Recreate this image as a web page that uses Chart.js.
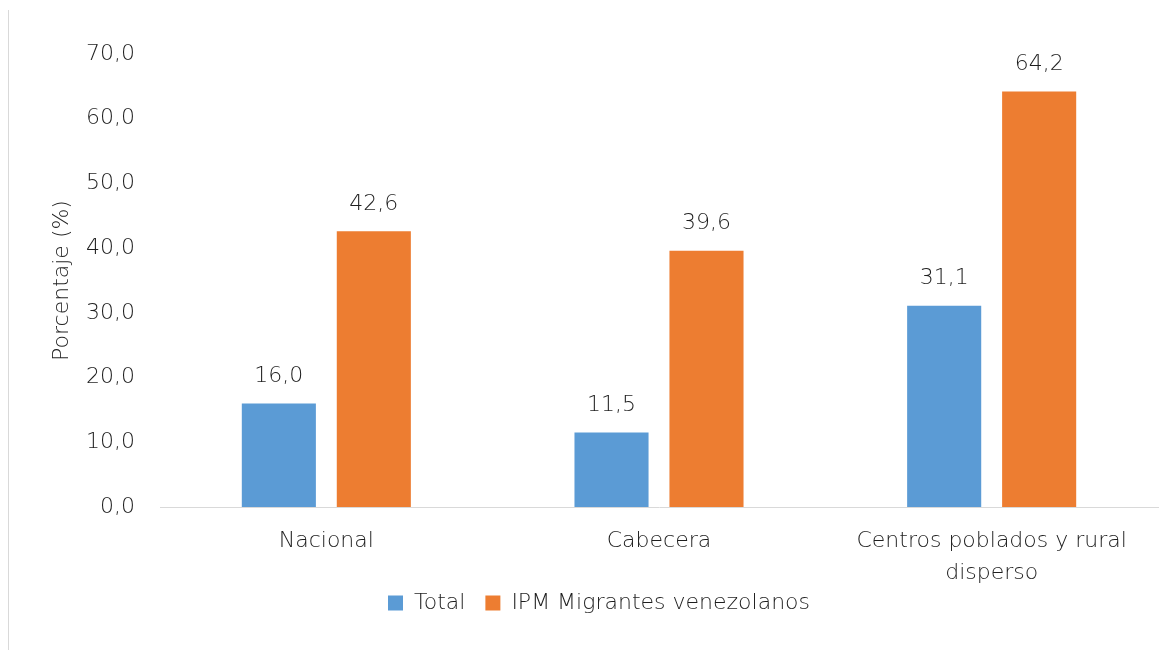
<!DOCTYPE html>
<html>
<head>
<meta charset="utf-8">
<script src="https://cdn.jsdelivr.net/npm/chart.js@4"></script>
<style>
  html, body { margin: 0; padding: 0; background: #fff; }
  #wrap { position: relative; width: 1174px; height: 650px; }
  #frame { position: absolute; left: 8px; top: 10px; width: 1166px; height: 640px; border-left: 1px solid #d9d9d9; box-sizing: border-box; }
  canvas { position: absolute; left: 0; top: 0; }
</style>
</head>
<body>
<div id="wrap">
  <div id="frame"></div>
  <canvas id="myChart" width="1174" height="650"></canvas>
</div>
<script>
const categories = [["Nacional"], ["Cabecera"], ["Centros poblados y rural", "disperso"]];
const totalValues = [16.0, 11.5, 31.1];
const migrantValues = [42.6, 39.6, 64.2];
const seriesNames = ["Total", "IPM Migrantes venezolanos"];
const yTicks = [0, 10, 20, 30, 40, 50, 60, 70];

const fmt = v => v.toFixed(1).replace(".", ",");
const textColor = "#1e1e1e";
const fontFamily = "'DejaVu Sans', sans-serif";
const fontWeight = 200;

const valueLabels = {
  id: "valueLabels",
  afterDatasetsDraw(chart) {
    const ctx = chart.ctx;
    ctx.save();
    ctx.font = fontWeight + " 22px " + fontFamily;
    ctx.fillStyle = textColor;
    ctx.textAlign = "center";
    ctx.textBaseline = "middle";
    chart.data.datasets.forEach((ds, i) => {
      chart.getDatasetMeta(i).data.forEach((bar, j) => {
        ctx.fillText(fmt(ds.data[j]), bar.x, bar.y - 27);
      });
    });
    ctx.restore();
  }
};

const baseFont = { size: 22, family: fontFamily, weight: fontWeight };

const ctx = document.getElementById("myChart");
new Chart(ctx, {
  type: "bar",
  data: {
    labels: categories,
    datasets: [
      {
        label: seriesNames[0],
        data: totalValues,
        backgroundColor: "#5B9BD5",
        categoryPercentage: 0.571,
        barPercentage: 0.78
      },
      {
        label: seriesNames[1],
        data: migrantValues,
        backgroundColor: "#ED7D31",
        categoryPercentage: 0.571,
        barPercentage: 0.78
      }
    ]
  },
  options: {
    responsive: false,
    animation: false,
    layout: { padding: { left: 40, right: 16, top: 54, bottom: 26 } },
    plugins: {
      legend: {
        position: "bottom",
        labels: {
          boxWidth: 15,
          boxHeight: 15,
          padding: 20,
          color: textColor,
          font: baseFont
        }
      },
      tooltip: { enabled: false }
    },
    scales: {
      x: {
        grid: { display: false },
        border: { color: "#d9d9d9", width: 1 },
        ticks: {
          color: textColor,
          padding: 10,
          maxRotation: 0,
          font: Object.assign({ lineHeight: 1.45 }, baseFont)
        },
        afterFit(scale) {
          scale.height = 65;
          // let the two-line label run past the scale box
          scale._computeLabelArea = () => undefined;
        }
      },
      y: {
        min: 0,
        max: 70,
        afterBuildTicks(scale) { scale.ticks = yTicks.map(v => ({ value: v })); },
        grid: { display: false },
        border: { display: false },
        ticks: {
          color: textColor,
          padding: 17,
          callback: v => fmt(v),
          font: baseFont
        },
        title: {
          display: true,
          text: "Porcentaje (%)",
          color: textColor,
          padding: 9,
          font: baseFont
        },
        afterFit(scale) { scale.width = 120; }
      }
    }
  },
  plugins: [valueLabels]
});
</script>
</body>
</html>
